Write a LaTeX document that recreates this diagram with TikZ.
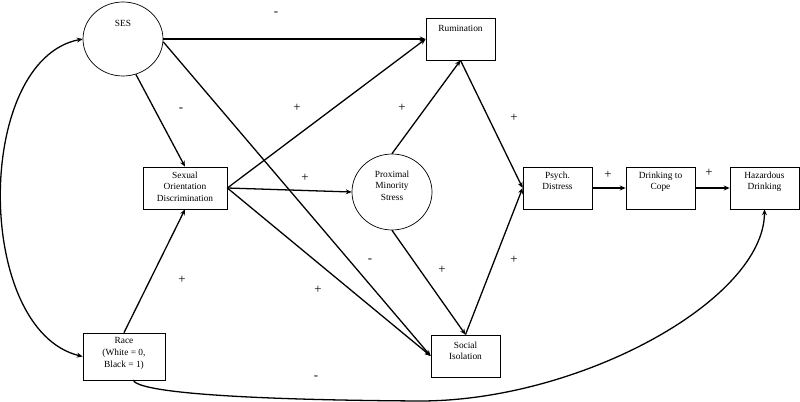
\documentclass[tikz,border=0pt]{standalone}
\usepackage{fontspec}
\setmainfont{Liberation Serif}
\usetikzlibrary{positioning,shapes.geometric,arrows.meta}
\tikzstyle{arrow} = [line width=1.1pt, ->, >={Stealth[length=5pt,width=4.2pt]}]
\tikzstyle{darrow} = [line width=1.1pt, <->, >={Stealth[length=5pt,width=4.2pt]}]
\tikzstyle{box} = [draw, line width=0.6pt, minimum width=2.07cm, minimum height=1.26cm, inner sep=0pt]
\tikzstyle{blob} = [draw, ellipse, line width=0.6pt, minimum width=2.4cm, minimum height=2.25cm, inner sep=0pt]
\tikzstyle{txt} = [font=\fontsize{8}{10}\selectfont, align=center, inner sep=0pt]
\tikzstyle{sign} = [font=\fontsize{11}{12}\selectfont, inner sep=0pt]

\begin{document}
\begin{tikzpicture}[x=0.03cm, y=-0.03cm]
        \useasboundingbox (0,0) rectangle (800,402);

        % Circles
        \node[blob, minimum height=2.22cm] (ses) at (123,39) {};
            \node[txt, below=0.54cm of ses.north] (sestext) {SES};
        \node[blob, minimum height=2.28cm] (pms) at (392,192) {};
            \node[txt, below=0.5cm of pms.north] (pmstext) {Proximal\\Minority\\Stress};

        % Boxes
        \node[box] (rum) at (460.5,39) {};
            \node[txt, below=0.23cm of rum.north] (rumtext) {Rumination};
        \node[box, minimum width=2.52cm] (sod) at (185,188) {};
            \node[txt, below=0.14cm of sod.north] (sodtext) {Sexual\\Orientation\\Discrimination};
        \node[box] (pd) at (557.5,188) {};
            \node[txt, below=0.14cm of pd.north] (pdtext) {Psych.\\Distress};
        \node[box] (dtc) at (660.5,188) {};
            \node[txt, below=0.14cm of dtc.north] (dtctext) {Drinking to\\Cope};
        \node[box] (hd) at (764.5,188) {};
            \node[txt, below=0.14cm of hd.north] (hdtext) {Hazardous\\Drinking};
        \node[box, minimum width=2.46cm, minimum height=1.41cm] (race) at (124,356.5) {};
            \node[txt, below=0.14cm of race.north] (racetext) {Race\\(White = 0,\\Black = 1)};
        \node[box] (si) at (465.5,356) {};
            \node[txt, below=0.2cm of si.north] (sitext) {Social\\Isolation};

        \coordinate (racefoot) at (133,380);
        \coordinate (low) at (420,401);

        % Draw Arrows
        \draw[arrow] (ses.east) -- (rum.west);
        \draw[arrow] (ses.-4) -- (si.west);
        \draw[arrow] (ses.-70) -- (sod.north);

        \draw[arrow] (sod.east) -- (rum.west);
        \draw[arrow] (sod.east) -- (pms.west);
        \draw[arrow] (sod.east) -- (si.west);

        \draw[arrow] (pms.north) -- (rum.south);
        \draw[arrow] (pms.south) -- (si.north);

        \draw[arrow] (rum.south) -- (pd.west);
        \draw[arrow] (si.north) -- (pd.west);

        \draw[arrow] (pd.east) -- (dtc.west);
        \draw[arrow] (dtc.east) -- (hd.west);

        \draw[arrow] (race.north) -- (sod.south);

        \draw[darrow] (ses.west) .. controls (-26,60) and (-26,330) .. (race.west);
        \draw[arrow] (racefoot) .. controls (138,393) and (250,400) .. (low)
            .. controls (580,401) and (764,300) .. (hd.south);

        % Signs
        \node[sign] (sgnsesrum) at (276,14) {-};
        \node[sign] (sgnsessod) at (181,110) {-};
        \node[sign] (sgnsodrum) at (297,108) {+};
        \node[sign] (sgnsodpms) at (305,178) {+};
        \node[sign] (sgnpmsrum) at (402,108) {+};
        \node[sign] (sgnrumpd) at (514,118) {+};
        \node[sign] (sgnpddtc) at (608,175) {+};
        \node[sign] (sgndtchd) at (709,173) {+};
        \node[sign] (sgnracesod) at (182,280) {+};
        \node[sign] (sgnsodsi) at (318,290) {+};
        \node[sign] (sgnsessi) at (370,261) {-};
        \node[sign] (sgnracehd) at (316,378) {-};
        \node[sign] (sgnpmssi) at (442,270) {+};
        \node[sign] (sgnsipd) at (514,260) {+};

    \end{tikzpicture}
\end{document}
